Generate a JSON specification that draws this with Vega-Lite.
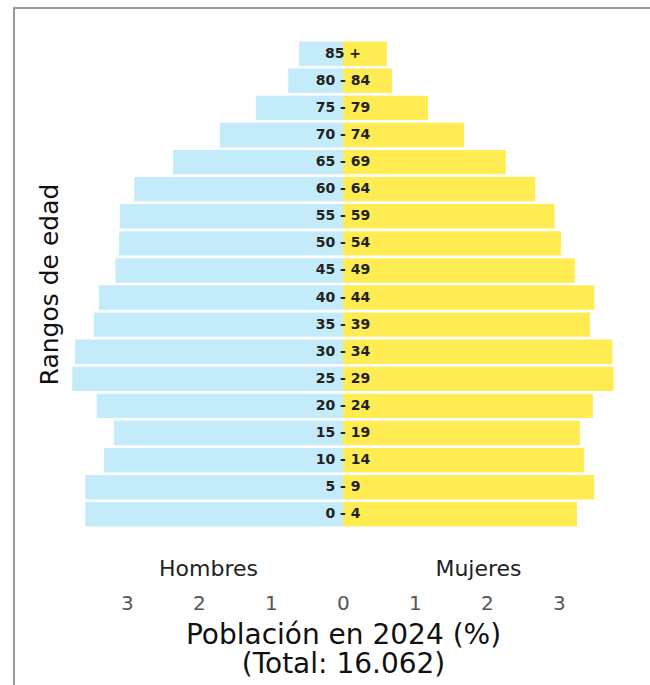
{
  "$schema": "https://vega.github.io/schema/vega-lite/v6.json",
  "autosize": {"type": "none"},
  "padding": {"left": 14, "top": 8, "right": 0, "bottom": 0},
  "width": 700,
  "height": 700,
  "background": "white",
  "config": {
    "font": "DejaVu Sans",
    "view": {"stroke": "#9a9a9a", "strokeWidth": 2}
  },
  "data": {
    "values": [
      {"edad": "85 +", "sexo": "Hombres", "pct": -0.61}, {"edad": "85 +", "sexo": "Mujeres", "pct": 0.61},
      {"edad": "80 - 84", "sexo": "Hombres", "pct": -0.76}, {"edad": "80 - 84", "sexo": "Mujeres", "pct": 0.68},
      {"edad": "75 - 79", "sexo": "Hombres", "pct": -1.21}, {"edad": "75 - 79", "sexo": "Mujeres", "pct": 1.18},
      {"edad": "70 - 74", "sexo": "Hombres", "pct": -1.71}, {"edad": "70 - 74", "sexo": "Mujeres", "pct": 1.68},
      {"edad": "65 - 69", "sexo": "Hombres", "pct": -2.36}, {"edad": "65 - 69", "sexo": "Mujeres", "pct": 2.26},
      {"edad": "60 - 64", "sexo": "Hombres", "pct": -2.90}, {"edad": "60 - 64", "sexo": "Mujeres", "pct": 2.67},
      {"edad": "55 - 59", "sexo": "Hombres", "pct": -3.10}, {"edad": "55 - 59", "sexo": "Mujeres", "pct": 2.94},
      {"edad": "50 - 54", "sexo": "Hombres", "pct": -3.11}, {"edad": "50 - 54", "sexo": "Mujeres", "pct": 3.03},
      {"edad": "45 - 49", "sexo": "Hombres", "pct": -3.16}, {"edad": "45 - 49", "sexo": "Mujeres", "pct": 3.22},
      {"edad": "40 - 44", "sexo": "Hombres", "pct": -3.39}, {"edad": "40 - 44", "sexo": "Mujeres", "pct": 3.49},
      {"edad": "35 - 39", "sexo": "Hombres", "pct": -3.46}, {"edad": "35 - 39", "sexo": "Mujeres", "pct": 3.43},
      {"edad": "30 - 34", "sexo": "Hombres", "pct": -3.72}, {"edad": "30 - 34", "sexo": "Mujeres", "pct": 3.74},
      {"edad": "25 - 29", "sexo": "Hombres", "pct": -3.76}, {"edad": "25 - 29", "sexo": "Mujeres", "pct": 3.76},
      {"edad": "20 - 24", "sexo": "Hombres", "pct": -3.42}, {"edad": "20 - 24", "sexo": "Mujeres", "pct": 3.47},
      {"edad": "15 - 19", "sexo": "Hombres", "pct": -3.18}, {"edad": "15 - 19", "sexo": "Mujeres", "pct": 3.29},
      {"edad": "10 - 14", "sexo": "Hombres", "pct": -3.32}, {"edad": "10 - 14", "sexo": "Mujeres", "pct": 3.35},
      {"edad": "5 - 9", "sexo": "Hombres", "pct": -3.58}, {"edad": "5 - 9", "sexo": "Mujeres", "pct": 3.49},
      {"edad": "0 - 4", "sexo": "Hombres", "pct": -3.58}, {"edad": "0 - 4", "sexo": "Mujeres", "pct": 3.25}
    ]
  },
  "encoding": {
    "y": {
      "field": "edad",
      "type": "nominal",
      "sort": ["85 +", "80 - 84", "75 - 79", "70 - 74", "65 - 69", "60 - 64", "55 - 59", "50 - 54", "45 - 49", "40 - 44", "35 - 39", "30 - 34", "25 - 29", "20 - 24", "15 - 19", "10 - 14", "5 - 9", "0 - 4"],
      "scale": {"range": [33.5, 518.5], "paddingInner": 0.1, "paddingOuter": 0},
      "axis": {
        "orient": "left",
        "offset": -58,
        "domain": false,
        "ticks": false,
        "labels": false,
        "title": "Rangos de edad",
        "titleFontSize": 25,
        "titleFontWeight": "normal",
        "titleColor": "#111",
        "titlePadding": 10
      }
    }
  },
  "layer": [
    {
      "mark": {"type": "bar"},
      "encoding": {
        "x": {
          "field": "pct",
          "type": "quantitative",
          "scale": {"domain": [-4.569, 5.153], "nice": false, "zero": false},
          "axis": {
            "orient": "bottom",
            "offset": -150,
            "values": [-3, -2, -1.875, -1, 0, 1, 1.875, 2, 3],
            "labelExpr": "datum.value == -1.875 ? ['Hombres', ''] : datum.value == 1.875 ? ['Mujeres', ''] : ['', format(abs(datum.value), 'd')]",
            "labelOverlap": false,
            "labelBound": false,
            "labelFlush": false,
            "labelFontSize": {"condition": {"test": "abs(datum.value) == 1.875", "value": 22}, "value": 20},
            "labelLineHeight": 35,
            "labelColor": {"condition": {"test": "abs(datum.value) == 1.875", "value": "#222"}, "value": "#555"},
            "labelPadding": 0,
            "tickSize": 0,
            "ticks": false,
            "domain": false,
            "grid": false,
            "title": ["Población en 2024 (%)", "(Total: 16.062)"],
            "titleFontSize": 28,
            "titleFontWeight": "normal",
            "titleColor": "#111",
            "titleLineHeight": 29,
            "titlePadding": 7,
            "titleX": 329,
            "titleAlign": "center"
          }
        },
        "x2": {"datum": 0},
        "color": {
          "field": "sexo",
          "type": "nominal",
          "scale": {"domain": ["Hombres", "Mujeres"], "range": ["#c3ebf9", "#ffec52"]},
          "legend": null
        }
      }
    },
    {
      "transform": [{"filter": "datum.sexo == 'Mujeres'"}],
      "mark": {"type": "text", "font": "DejaVu Sans", "fontWeight": "bold", "fontSize": 14, "color": "#222", "align": "center", "baseline": "middle"},
      "encoding": {
        "x": {"datum": 0},
        "text": {"field": "edad"}
      }
    }
  ]
}
